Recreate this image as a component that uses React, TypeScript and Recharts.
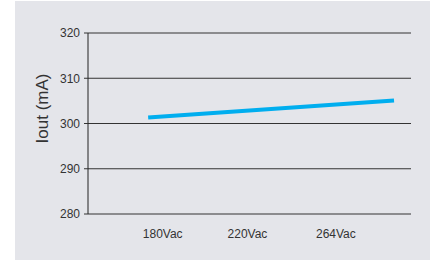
import React from "react";
import { LineChart, Line, XAxis, YAxis, CartesianGrid } from "recharts";

const xPositions = [0.745, 3.79];
const ioutValues = [301.3, 305.1];
const xTicks = [0, 1, 2, 3, 4];
const xLabelPositions = [0.925, 1.975, 3.07];
const xTickLabels = ["180Vac", "220Vac", "264Vac"];
const yTicks = [280, 290, 300, 310, 320];
const yLabel = "Iout (mA)";

const data = xPositions.map((x, i) => ({ x, iout: ioutValues[i] }));

const FONT = "'Liberation Sans', Arial, sans-serif";

const YLabel = (props: any) => {
  const vb = props.viewBox || { x: 0, y: 0, width: 0, height: 0 };
  const cx = vb.x + 42;
  const cy = vb.y + vb.height / 2 - 15;
  return (
    <text
      x={cx}
      y={cy}
      transform={`rotate(-90, ${cx}, ${cy})`}
      textAnchor="middle"
      dominantBaseline="central"
      fontFamily={FONT}
      fontSize={17}
      fill="#333"
    >
      {yLabel}
    </text>
  );
};

export default function App() {
  return (
    <div style={{ position: "absolute", left: 0, top: 0, width: 440, height: 261, background: "#fff" }}>
      <div style={{ position: "absolute", left: 15, top: 1, width: 415, height: 259, background: "#e4e5ea" }} />
      <div style={{ position: "absolute", left: 0, top: 0 }}>
        <LineChart width={440} height={261} data={data} margin={{ top: 33, right: 29, left: 0, bottom: 0 }}>
          <CartesianGrid horizontal vertical={false} stroke="#333" strokeWidth={1} />
          <XAxis
            dataKey="x"
            type="number"
            domain={[0, 4]}
            ticks={xTicks}
            tickFormatter={() => ""}
            height={0}
            axisLine={{ stroke: "#666", strokeWidth: 1.5 }}
            tickLine={{ stroke: "#666" }}
            tickSize={3}
            interval={0}
          />
          <XAxis
            xAxisId="labels"
            dataKey="x"
            type="number"
            domain={[0, 4]}
            ticks={xLabelPositions}
            tickFormatter={(v: number) => xTickLabels[xLabelPositions.indexOf(v)] ?? ""}
            height={47}
            axisLine={false}
            tickLine={false}
            tickSize={3}
            tickMargin={12}
            tick={{ fontFamily: FONT, fontSize: 12, fill: "#333" }}
            interval={0}
          />
          <YAxis
            type="number"
            domain={[280, 320]}
            ticks={yTicks}
            width={88}
            axisLine={{ stroke: "#222" }}
            tickLine={{ stroke: "#333" }}
            tickSize={4}
            tickMargin={4}
            tick={{ fontFamily: FONT, fontSize: 12, fill: "#333" }}
            label={<YLabel />}
          />
          <Line
            dataKey="iout"
            stroke="#00aeef"
            strokeWidth={4}
            dot={false}
            isAnimationActive={false}
          />
        </LineChart>
      </div>
    </div>
  );
}
